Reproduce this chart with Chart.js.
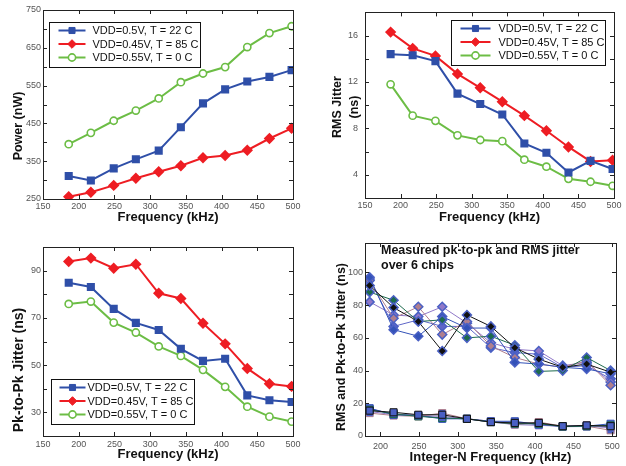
<!DOCTYPE html>
<html>
<head>
<meta charset="utf-8">
<script src="https://cdn.jsdelivr.net/npm/chart.js@4.4.1/dist/chart.umd.min.js"></script>
<style>
  body { margin: 0; background: #fff; }
  #wrap { position: relative; width: 626px; height: 466px; background: #fff; }
  #wrap canvas { position: absolute; }
</style>
</head>
<body>
<div id="wrap">
  <canvas id="power" width="313" height="233" style="left:0;top:0"></canvas>
  <canvas id="rms" width="313" height="233" style="left:313px;top:0"></canvas>
  <canvas id="pkpk" width="313" height="233" style="left:0;top:233px"></canvas>
  <canvas id="chips" width="313" height="233" style="left:313px;top:233px"></canvas>
</div>
<script>
// ---- data ----
const freq = [186, 217, 249, 280, 312, 343, 374, 405, 436, 467, 498];
const cornerLabels = ["VDD=0.5V, T = 22 C", "VDD=0.45V, T = 85 C", "VDD=0.55V, T = 0 C"];

const power22 = [311, 299, 331, 355, 378, 440, 503, 540, 561, 573, 591];
const power85 = [256, 268, 286, 305, 322, 338, 359, 365, 379, 410, 437];
const power0 = [395, 425, 457, 484, 516, 559, 582, 599, 652, 689, 707];

const rms22 = [14.4, 14.3, 13.8, 11.0, 10.1, 9.2, 6.7, 5.9, 4.2, 5.2, 4.5];
const rms85 = [16.3, 14.9, 14.25, 12.7, 11.5, 10.3, 9.1, 7.8, 6.4, 5.15, 5.25];
const rms0 = [11.8, 9.1, 8.65, 7.4, 7.0, 6.9, 5.3, 4.7, 3.65, 3.4, 3.05];

const pkpk22 = [84.9, 83.1, 73.8, 67.9, 64.9, 56.9, 51.8, 52.7, 37.2, 35.1, 34.4];
const pkpk85 = [93.9, 95.3, 91.0, 92.7, 80.4, 78.2, 67.7, 59.0, 48.6, 42.1, 41.0];
const pkpk0 = [75.9, 76.9, 68.0, 63.8, 57.9, 53.9, 48.0, 40.8, 32.4, 28.2, 26.1];

const chipNames = ["chip 1", "chip 2", "chip 3", "chip 4", "chip 5", "chip 6"];
const chipPkpk = [
  [92, 78.5, 70, 52, 74, 67, 54, 47, 42, 44, 39],
  [88, 83, 70, 71, 60, 61, 55.5, 39.5, 40, 48, 40],
  [97, 65, 61, 73, 66, 66, 45, 44, 42, 41, 38],
  [95, 72, 79, 62, 70, 55, 48, 44, 42, 46, 31],
  [82, 74, 73, 79, 69, 57, 53, 52, 43, 45, 33],
  [96, 67, 71, 67, 67, 54, 51, 50, 42, 43, 35]
];
const chipRms = [
  [15.5, 14.5, 13, 13, 10.5, 8.5, 8, 8, 6, 6.5, 6],
  [16, 13.5, 12, 11, 10.5, 8.5, 7.5, 7.5, 5.8, 6, 6.5],
  [17, 13, 12.5, 10.5, 10.5, 9, 9, 7, 6, 6, 7.5],
  [14, 12.5, 12, 14, 10.5, 9, 7, 8.5, 6, 6, 3.5],
  [15, 13, 12.5, 12, 10.5, 8.5, 7, 6.5, 6, 6.5, 5],
  [16.5, 13.5, 12.5, 11, 10.5, 8.5, 8.5, 7, 5.7, 5.8, 5.5]
];

const freqTicks = [150, 200, 250, 300, 350, 400, 450, 500];
const chipFreqTicks = [200, 250, 300, 350, 400, 450, 500];
const powerTicks = [250, 300, 350, 400, 450, 500, 550, 600, 650, 700, 750];
const rmsTicks = [2, 4, 6, 8, 10, 12, 14, 16, 18];
const pkpkTicks = [20, 30, 40, 50, 60, 70, 80, 90, 100];
const chipTicks = [0, 20, 40, 60, 80, 100];
const noteLines = ["Measured pk-to-pk and RMS jitter", "over 6 chips"];

// ---- styling ----
const FONT = "'Liberation Sans', Arial, sans-serif";
const BLUE = "#2f4fa8", RED = "#ee1d23", GREEN = "#6cbd45";
const chipColors = ["#111111", "#1d6b4d", "#3352b8", "#b07f8e", "#9078c8", "#5f66c8"];
const MARK = "#4a60c4";

const pts = (ys) => freq.map((f, i) => ({ x: f, y: ys[i] }));

function cornerSets(a, b, c) {
  return [
    { label: cornerLabels[0], data: pts(a), borderColor: BLUE, backgroundColor: BLUE,
      pointStyle: "rect", pointRadius: 4.3, pointBackgroundColor: BLUE, pointBorderColor: BLUE, borderWidth: 2 },
    { label: cornerLabels[1], data: pts(b), borderColor: RED, backgroundColor: RED,
      pointStyle: "rectRot", pointRadius: 4.3, pointBackgroundColor: RED, pointBorderColor: RED, borderWidth: 2 },
    { label: cornerLabels[2], data: pts(c), borderColor: GREEN, backgroundColor: "#fff",
      pointStyle: "circle", pointRadius: 3.6, pointBorderWidth: 1.6, pointBackgroundColor: "#fff", pointBorderColor: GREEN, borderWidth: 2 }
  ];
}

// draw a marker the same way for the legend
function marker(ctx, ds, x, y) {
  const r = ds.pointRadius;
  ctx.save();
  ctx.fillStyle = ds.pointBackgroundColor;
  ctx.strokeStyle = ds.pointBorderColor;
  ctx.lineWidth = ds.pointBorderWidth || 1;
  ctx.beginPath();
  if (ds.pointStyle === "rect") {
    const s = r * Math.SQRT1_2;
    ctx.rect(x - s, y - s, 2 * s, 2 * s);
  } else if (ds.pointStyle === "rectRot") {
    ctx.moveTo(x - r, y); ctx.lineTo(x, y - r); ctx.lineTo(x + r, y); ctx.lineTo(x, y + r); ctx.closePath();
  } else {
    ctx.arc(x, y, r, 0, Math.PI * 2);
  }
  ctx.fill(); ctx.stroke();
  ctx.restore();
}

// box frame with inward ticks on all four sides
const frame = {
  id: "frame",
  afterDraw(chart) {
    const ctx = chart.ctx, a = chart.chartArea;
    const xs = chart.scales.x, ys = chart.scales.y;
    ctx.save();
    ctx.strokeStyle = "#222";
    ctx.lineWidth = 1;
    ctx.strokeRect(Math.round(a.left) + 0.5, Math.round(a.top) + 0.5,
      Math.round(a.right - a.left), Math.round(a.bottom - a.top));
    ctx.beginPath();
    xs.ticks.forEach(t => {
      const px = Math.round(xs.getPixelForValue(t.value)) + 0.5;
      ctx.moveTo(px, a.bottom); ctx.lineTo(px, a.bottom - 4);
      ctx.moveTo(px, a.top); ctx.lineTo(px, a.top + 4);
    });
    ys.ticks.forEach(t => {
      const py = Math.round(ys.getPixelForValue(t.value)) + 0.5;
      ctx.moveTo(a.left, py); ctx.lineTo(a.left + 4, py);
      ctx.moveTo(a.right, py); ctx.lineTo(a.right - 4, py);
    });
    ctx.stroke();
    ctx.restore();
  }
};

// legend drawn as a framed box inside the plot
const boxLegend = {
  id: "boxLegend",
  afterDatasetsDraw(chart, args, o) {
    if (!o || !o.width) return;
    const ctx = chart.ctx, a = chart.chartArea;
    const bx = Math.round(o.right != null ? a.right - o.right - o.width : a.left + o.left) + 0.5;
    const by = Math.round(o.bottom != null ? a.bottom - o.bottom - o.height : a.top + o.top) + 0.5;
    ctx.save();
    ctx.fillStyle = "#fff";
    ctx.strokeStyle = "#111";
    ctx.lineWidth = 1;
    ctx.fillRect(bx, by, o.width, o.height);
    ctx.strokeRect(bx, by, o.width, o.height);
    ctx.font = "11px " + FONT;
    ctx.textBaseline = "middle";
    chart.data.datasets.forEach((ds, i) => {
      const y = by + o.rows[i];
      ctx.strokeStyle = ds.borderColor;
      ctx.lineWidth = 2;
      ctx.beginPath();
      ctx.moveTo(bx + o.line[0], y); ctx.lineTo(bx + o.line[1], y);
      ctx.stroke();
      marker(ctx, ds, bx + (o.line[0] + o.line[1]) / 2, y);
      ctx.fillStyle = "#111";
      ctx.fillText(ds.label, bx + o.text, y + 0.5);
    });
    ctx.restore();
  }
};

// free text: the note in the chips panel and the rotated y titles
const texts = {
  id: "texts",
  afterDraw(chart, args, o) {
    const ctx = chart.ctx, a = chart.chartArea;
    ctx.save();
    ctx.fillStyle = "#111";
    ctx.textBaseline = "middle";
    if (o.note) {
      ctx.font = "bold 12.5px " + FONT;
      o.note.lines.forEach((s, i) => ctx.fillText(s, a.left + o.note.x, a.top + o.note.y + i * 15));
    }
    if (o.yTitle) {
      const t = o.yTitle;
      ctx.font = "bold " + t.size + "px " + FONT;
      ctx.textAlign = "center";
      t.lines.forEach((s, i) => {
        ctx.save();
        ctx.translate(t.x + i * 17, t.y);
        ctx.rotate(-Math.PI / 2);
        ctx.fillText(s, 0, 0);
        ctx.restore();
      });
    }
    ctx.restore();
  }
};

function makeChart(id, cfg) {
  const tickFont = { family: FONT, size: 9 };
  return new Chart(document.getElementById(id), {
    type: "line",
    data: { datasets: cfg.datasets },
    plugins: [frame, boxLegend, texts],
    options: {
      responsive: false,
      animation: false,
      devicePixelRatio: 1,
      layout: { padding: cfg.pad },
      elements: { line: { tension: 0 } },
      plugins: {
        legend: { display: false },
        tooltip: { enabled: false },
        boxLegend: cfg.legend || {},
        texts: { note: cfg.note, yTitle: cfg.yTitle }
      },
      scales: {
        x: {
          type: "linear", min: cfg.xMin, max: cfg.xMax,
          afterBuildTicks: s => { s.ticks = cfg.xTicks.map(v => ({ value: v })); },
          afterFit: s => { s.height = cfg.xH; },
          grid: { display: false, drawTicks: false, tickLength: 0 }, border: { display: false },
          ticks: { font: tickFont, color: "#555", padding: cfg.xTickPad, autoSkip: false, maxRotation: 0 },
          title: { display: true, text: cfg.xTitle, color: "#111",
            font: { family: FONT, size: 13, weight: "bold" }, padding: { bottom: cfg.xTitlePad, top: 0 } }
        },
        y: {
          type: "linear", min: cfg.yMin, max: cfg.yMax,
          afterBuildTicks: s => { s.ticks = cfg.yTicks.map(v => ({ value: v })); },
          afterFit: s => { s.width = cfg.yW; },
          grid: { display: false, drawTicks: false, tickLength: 0 }, border: { display: false },
          ticks: { font: tickFont, color: "#555", padding: cfg.yTickPad, autoSkip: false,
            callback: v => cfg.yLabel(v) ? String(v) : "" }
        }
      }
    }
  });
}

makeChart("power", {
  datasets: cornerSets(power22, power85, power0),
  pad: { top: 10, right: 20, left: 0, bottom: 0 },
  xMin: 150, xMax: 500, xTicks: freqTicks, xH: 34, xTitle: "Frequency (kHz)", xTitlePad: 8, xTickPad: 2,
  yMin: 250, yMax: 750, yTicks: powerTicks, yW: 43, yTickPad: 2,
  yTitle: { lines: ["Power (nW)"], x: 19, y: 126, size: 12.5 },
  yLabel: v => (v - 250) % 100 === 0,
  legend: { left: 6, top: 12, width: 151, height: 45, rows: [8, 21.5, 35], line: [9, 36], text: 43 }
});

makeChart("rms", {
  datasets: cornerSets(rms22, rms85, rms0),
  pad: { top: 9, right: 12, left: 0, bottom: 0 },
  xMin: 150, xMax: 500, xTicks: freqTicks, xH: 35, xTitle: "Frequency (kHz)", xTitlePad: 8, xTickPad: 2,
  yMin: 2, yMax: 18, yTicks: rmsTicks, yW: 52, yTickPad: 7,
  yTitle: { lines: ["RMS Jitter", "(ns)"], x: 25, y: 107, size: 12.5 },
  yLabel: v => v % 4 === 0 && v > 2 && v < 18,
  legend: { right: 9, top: 8, width: 154, height: 45, rows: [8, 21.5, 35], line: [9, 39], text: 47 }
});

makeChart("pkpk", {
  datasets: cornerSets(pkpk22, pkpk85, pkpk0),
  pad: { top: 14, right: 20, left: 0, bottom: 0 },
  xMin: 150, xMax: 500, xTicks: freqTicks, xH: 30, xTitle: "Frequency (kHz)", xTitlePad: 4, xTickPad: 3,
  yMin: 20, yMax: 100, yTicks: pkpkTicks, yW: 43, yTickPad: 2,
  yTitle: { lines: ["Pk-to-Pk Jitter (ns)"], x: 19, y: 137, size: 14 },
  yLabel: v => (v - 30) % 20 === 0,
  legend: { left: 8, bottom: 12, width: 143, height: 45, rows: [8, 21.5, 35], line: [8, 34], text: 36 }
});

const chipSets = [];
chipPkpk.forEach((ys, i) => chipSets.push({
  label: chipNames[i] + " pk-to-pk", data: pts(ys), borderColor: chipColors[i], borderWidth: 1,
  pointStyle: "rectRot", pointRadius: 4.5, pointBorderWidth: 1.5,
  pointBackgroundColor: chipColors[i], pointBorderColor: MARK
}));
chipRms.forEach((ys, i) => chipSets.push({
  label: chipNames[i] + " RMS", data: pts(ys), borderColor: chipColors[i], borderWidth: 1,
  pointStyle: "rect", pointRadius: 5, pointBorderWidth: 1,
  pointBackgroundColor: MARK, pointBorderColor: chipColors[i]
}));

makeChart("chips", {
  datasets: chipSets,
  pad: { top: 10, right: 10, left: 0, bottom: 0 },
  xMin: 180, xMax: 505, xTicks: chipFreqTicks, xH: 30, xTitle: "Integer-N Frequency (kHz)", xTitlePad: 1, xTickPad: 5,
  yMin: 0, yMax: 118, yTicks: chipTicks, yW: 52, yTickPad: 2,
  yTitle: { lines: ["RMS and Pk-to-Pk Jitter (ns)"], x: 29, y: 114, size: 12.5 },
  yLabel: v => true,
  note: { lines: noteLines, x: 16, y: 8 }
});
</script>
</body>
</html>
